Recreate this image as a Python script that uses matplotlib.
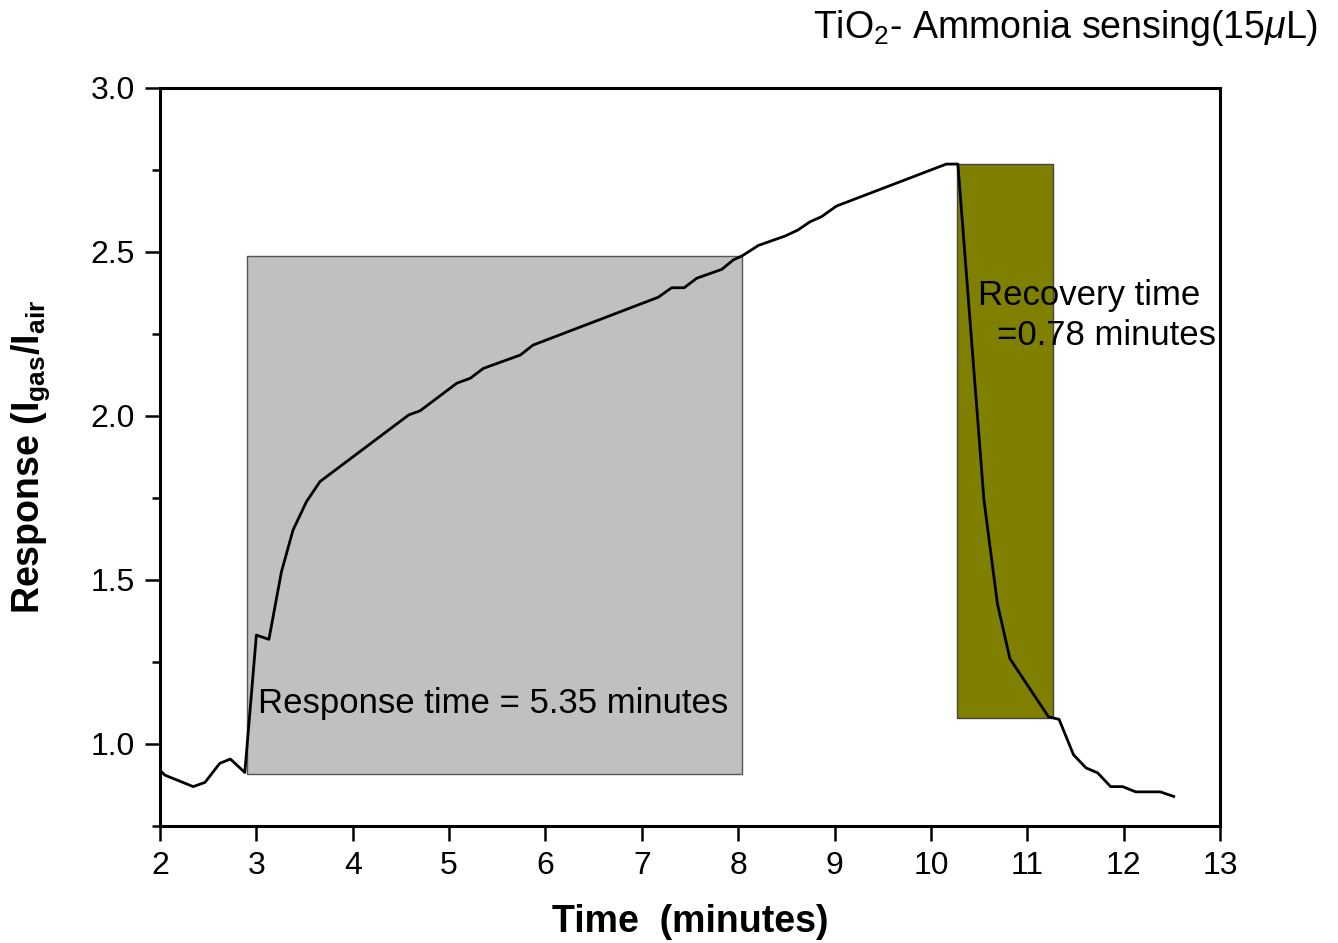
import matplotlib
matplotlib.use("Agg")
import matplotlib.pyplot as plt
from matplotlib.patches import Rectangle

plt.rcParams['font.family'] = ['Liberation Sans', 'DejaVu Sans']
plt.rcParams['mathtext.fontset'] = 'custom'
plt.rcParams['mathtext.rm'] = 'Liberation Sans'
plt.rcParams['mathtext.it'] = 'Liberation Sans:italic'
plt.rcParams['mathtext.bf'] = 'Liberation Sans:bold'

# Sensor response vs. time (minutes)
time_min = [2.00, 2.05, 2.345, 2.467, 2.62, 2.73, 2.88, 3.00, 3.13, 3.26,
            3.38, 3.52, 3.66, 4.58, 4.70, 5.08, 5.22, 5.355, 5.74, 5.87,
            7.17, 7.31, 7.44, 7.57, 7.83, 7.95, 8.04, 8.21, 8.49, 8.62,
            8.745, 8.867, 9.02, 10.16, 10.28, 10.55, 10.69, 10.82, 11.22,
            11.33, 11.48, 11.61, 11.73, 11.865, 11.99, 12.125, 12.38, 12.52]
response = [0.92, 0.905, 0.870, 0.883, 0.941, 0.954, 0.913, 1.332, 1.319, 1.525,
            1.652, 1.739, 1.800, 2.003, 2.016, 2.100, 2.115, 2.145, 2.186, 2.216,
            2.362, 2.391, 2.391, 2.420, 2.447, 2.476, 2.488, 2.520, 2.549, 2.567,
            2.592, 2.608, 2.640, 2.768, 2.768, 1.745, 1.428, 1.260, 1.083,
            1.075, 0.967, 0.927, 0.912, 0.870, 0.870, 0.854, 0.854, 0.840]

# Shaded windows: (t_start, t_end, y_low, y_high)
response_window = (2.905, 8.04, 0.909, 2.489)
recovery_window = (10.267, 11.27, 1.078, 2.768)

x_ticks = [2, 3, 4, 5, 6, 7, 8, 9, 10, 11, 12, 13]
y_ticks = [1.0, 1.5, 2.0, 2.5, 3.0]

fig = plt.figure(figsize=(13.38, 9.43), dpi=100)
ax = fig.add_axes([0.1196, 0.1241, 0.7922, 0.7826])

t0, t1, ylo, yhi = response_window
ax.add_patch(Rectangle((t0, ylo), t1 - t0, yhi - ylo, facecolor='#c0c0c0',
                       edgecolor='#555555', linewidth=1.0, zorder=1))
t0, t1, ylo, yhi = recovery_window
ax.add_patch(Rectangle((t0, ylo), t1 - t0, yhi - ylo, facecolor='#808000',
                       edgecolor='#444444', linewidth=1.0, zorder=1))

ax.plot(time_min, response, color='black', linewidth=2.0, zorder=3)

ax.text(3.017, 1.122, 'Response time = 5.35 minutes', fontsize=25,
        ha='left', va='center', zorder=4)
ax.text(10.49, 2.366, 'Recovery time', fontsize=25, ha='left', va='center', zorder=4)
ax.text(10.686, 2.244, '=0.78 minutes', fontsize=25, ha='left', va='center', zorder=4)

ax.set_xlim(2, 13)
ax.set_ylim(0.75, 3.0)
ax.set_xticks(x_ticks)
ax.set_xticklabels([str(t) for t in x_ticks])
ax.set_yticks(y_ticks)
ax.set_yticklabels([f'{v:.1f}' for v in y_ticks])
ax.set_yticks([0.75, 1.25, 1.75, 2.25, 2.75], minor=True)

for s in ax.spines.values():
    s.set_linewidth(2.2)
ax.tick_params(axis='both', which='major', direction='out', length=11, width=1.8,
               labelsize=23, pad=7)
ax.tick_params(axis='y', which='minor', direction='out', length=6, width=1.8)
ax.tick_params(top=False, right=False)

ax.set_xlabel('Time  (minutes)', fontsize=27, fontweight='bold')
ax.xaxis.set_label_coords(0.5, -0.13)
ax.xaxis.label.set_va('center')
ax.set_ylabel(r'Response (I$_{\mathbf{gas}}$/I$_{\mathbf{air}}$', fontsize=27,
              fontweight='bold')
ax.yaxis.set_label_coords(-0.122, 0.5)
ax.yaxis.label.set_va('center')

fig.text(0.985, 0.970, r'TiO$_2$- Ammonia sensing(15$\mu$L)', fontsize=27,
         ha='right', va='center')

fig.savefig('out.png', dpi=100)
